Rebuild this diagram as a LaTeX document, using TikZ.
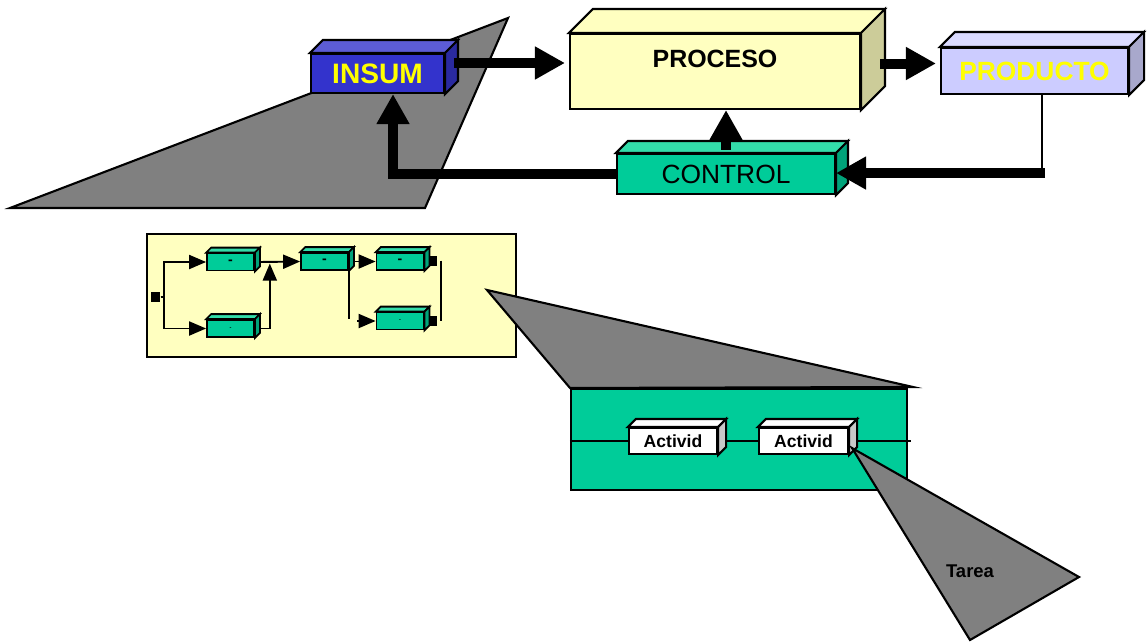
\documentclass[tikz,border=0pt]{standalone}
\usepackage{fontspec}
\setmainfont{Liberation Sans}
\usepackage{tikz}
\usetikzlibrary{arrows.meta,calc,shapes}

\definecolor{gris}{HTML}{808080}
\definecolor{grisclaro}{HTML}{C8C8C8}
\definecolor{crema}{HTML}{FFFFC0}
\definecolor{cremalado}{HTML}{CCCC99}
\definecolor{azul}{HTML}{3333CC}
\definecolor{azultapa}{HTML}{5C5CD6}
\definecolor{azullado}{HTML}{2A2AA0}
\definecolor{lila}{HTML}{CCCCFF}
\definecolor{lilatapa}{HTML}{DADAFF}
\definecolor{lilalado}{HTML}{A8A8CC}
\definecolor{verde}{HTML}{00CC99}
\definecolor{verdetapa}{HTML}{33DDAA}
\definecolor{verdelado}{HTML}{00A37A}
\definecolor{amarillo}{HTML}{FFFF00}

\tikzset{
    caja/.style={rectangle,draw,inner sep=0pt},
    cajita/.style={rectangle,draw,fill=verde,inner sep=0pt,line width=1pt,
      minimum width=0.94cm,minimum height=0.34cm,font=\footnotesize\bfseries},
    cuadrito/.style={rectangle,fill=black,inner sep=0pt,
      minimum width=1.8mm,minimum height=2mm},
    flecha/.style={line width=2mm,-{Triangle[length=6mm,width=6.2mm]}},
    flechita/.style={line width=1.1pt,-{Triangle[length=3.4mm,width=2.8mm]}},
    sombra/.style={fill=gris,draw=black,line width=1.2pt},
}

% cara de arriba y cara lateral de una caja: nodo, fondo, color arriba, color lado
\newcommand{\cubo}[4]{%
  \filldraw[fill=#3] (#1.north west) -- ++(#2,-#2) -- ([shift={(#2,-#2)}]#1.north east) -- (#1.north east) -- cycle;
  \filldraw[fill=#4] (#1.north east) -- ++(#2,-#2) -- ([shift={(#2,-#2)}]#1.south east) -- (#1.south east) -- cycle;
}

\begin{document}
\begin{tikzpicture}[x=0.02cm,y=-0.02cm,line width=1.2pt]
\useasboundingbox (0,0) rectangle (1148,642);

\filldraw[sombra] (10,208) -- (508,18) -- (425,208) -- cycle;

\node[caja, fill=azul, minimum width = 2.66cm, minimum height = 0.78cm,
    text=amarillo, font=\fontsize{16}{18}\selectfont\bfseries] (insumo) at (377.5,73.5) {INSUM};
\cubo{insumo}{13}{azultapa}{azullado}
\node[caja, fill=crema, minimum width = 5.8cm, minimum height = 1.5cm, text depth=0.5cm,
    font=\fontsize{14.2}{16}\selectfont\bfseries] (proceso) at (715,71.5) {PROCESO};
\cubo{proceso}{24}{crema}{cremalado}
\node[caja, fill=lila, minimum width = 3.74cm, minimum height = 0.92cm,
    text=amarillo, font=\fontsize{15}{18}\selectfont\bfseries] (producto) at (1034.5,71) {PRODUCTO};
\cubo{producto}{15}{lilatapa}{lilalado}
\node[caja, fill=verde, minimum width = 4.36cm, minimum height = 0.8cm,
    font=\fontsize{15}{16}\selectfont] (control) at (726,174) {CONTROL};
\cubo{control}{12}{verdetapa}{verdelado}

\draw[flecha, shorten >=0.8mm] ([xshift=1.8mm,yshift=2.1mm]insumo.east) coordinate (s1) -- (s1 -| proceso.west);
\draw[flecha, shorten >=0.8mm] ([xshift=3.8mm,yshift=1.6mm]proceso.east) coordinate (s2) -- (s2 -| producto.west);
\draw[flecha] ([yshift=0.06cm]control.north) -- (control.north |- proceso.south);
\draw ([xshift=1.5mm]producto.south) -- ++(0,78) coordinate (p1);
\draw[flecha] ([xshift=0.06cm]p1) -- (p1 -| control.east);
\draw[flecha] (control.west) -| ([xshift=3.1mm]insumo.south);

% detalle del proceso
\node[caja, fill=crema, minimum width = 7.38cm, minimum height = 2.46cm] (marco) at (331.5,295.5) {};
\filldraw[sombra] (487,290) -- (570,388) -- (913,387) -- cycle;
\node[caja, fill=verde, minimum width = 6.72cm, minimum height = 2.02cm] (etapa) at (739,439.5) {};

\node[cajita] (cA) at (230.5,262) {-};
\node[cajita] (cB) at (230.5,328.5) {\scalebox{0.4}{-}};
\node[cajita] (cC) at (324.5,261.5) {-};
\node[cajita] (cD) at (400,261.5) {-};
\node[cajita] (cE) at (400,321) {\scalebox{0.4}{-}};
\node[cuadrito] (q0) at (155,297) {};
\node[cuadrito] (qD) at (432,260.5) {};
\node[cuadrito] (qE) at (432,320.5) {};

\draw[flechita] (q0.east) -- ++(3,0) |- (cA.west);
\draw[flechita] (q0.east) -- ++(3,0) |- (cB.west);
\draw[flechita] ([xshift=0.1cm]cA.east) -- (cC.west);
\draw[flechita, shorten >=1pt] ([xshift=0.1cm]cB.east) -| ($(cA.east)!0.33!(cC.west)$);
\draw[flechita] ([xshift=0.12cm]cC.east) -- (cD.west);
\draw[line width=1.1pt] (cC.east) -- ++(0,57);
\coordinate (e0) at (357,321);
\draw[flechita] (e0) -- (cE.west);
\draw[line width=1.1pt] ([xshift=0.06cm]qD.east) -- ([xshift=0.06cm]qE.east);
\foreach \c in {cA,cB,cC,cD,cE}
  {\begin{scope}[line width=1pt]\cubo{\c}{5}{verdetapa}{verdelado}\end{scope}}

\node[caja, fill=white, minimum width = 1.76cm, minimum height = 0.52cm,
    font=\fontsize{10}{12}\selectfont\bfseries] (act1) at (673,441) {Activid};
\node[caja, fill=white, minimum width = 1.78cm, minimum height = 0.52cm,
    font=\fontsize{10}{12}\selectfont\bfseries] (act2) at (803.5,441) {Activid};
\draw (etapa.west |- act1.west) -- (act1.west);
\draw (act1.east) -- (act2.west);
\draw (act2.east) -- ([xshift=0.06cm]etapa.east |- act2.east);
\cubo{act1}{8}{white}{grisclaro}
\cubo{act2}{8}{white}{grisclaro}

\filldraw[sombra] ([xshift=0.06cm,yshift=0.14cm]act2.south east) -- (1079,577) -- (970,640) -- cycle;
\node[font=\fontsize{10.5}{12}\selectfont\bfseries] (tarea) at (970,571) {Tarea};
\end{tikzpicture}
\end{document}
